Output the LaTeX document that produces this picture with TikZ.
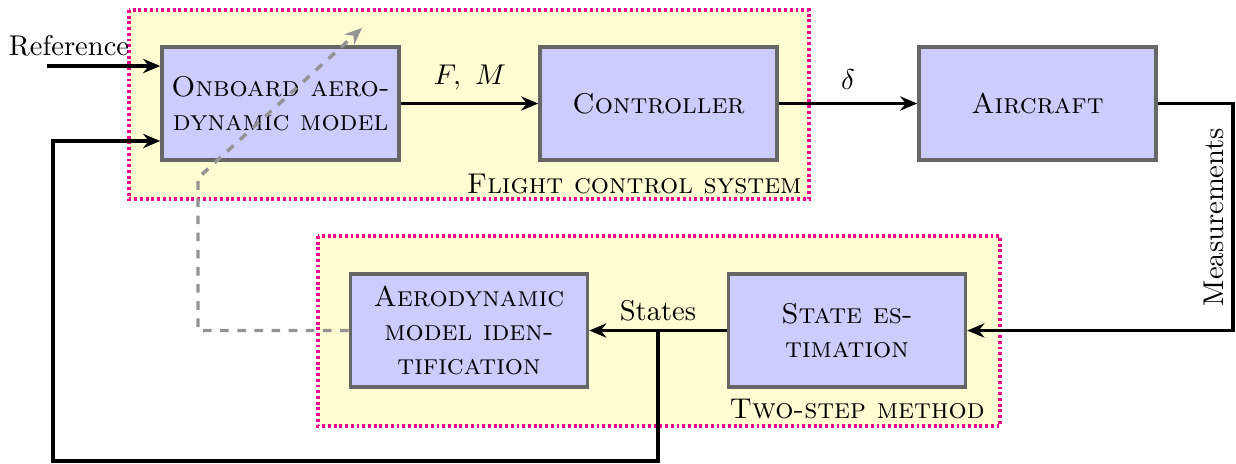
\documentclass[tikz,border=0pt]{standalone}
\usetikzlibrary{arrows.meta}
\begin{document}
\begin{tikzpicture}[x=0.35pt,y=-0.35pt,
  blk/.style={draw=black!60,very thick,fill=blue!20,minimum width=83pt,minimum height=39.5pt,align=center,inner sep=2pt},
  grp/.style={draw=magenta,line width=1.1pt,dash pattern=on 1pt off 1pt,fill=yellow!18},
  sig/.style={very thick,-{Stealth[length=6pt,width=5pt,inset=2pt]}},
  adj/.style={very thick,dashed,gray!85,-{Stealth[length=6pt,width=5pt,inset=2pt]}},
  lbl/.style={inner sep=1pt}]
\useasboundingbox (0,0) rectangle (1236,463);
% group backgrounds
\path[grp] (129,10) rectangle (809,199);
\path[grp] (318,236) rectangle (1000,426);
\node[lbl,anchor=base east] (fcs) at (805,193) {\textsc{Flight control system}};
\node[lbl,anchor=base east] (tsm) at (988,418) {\textsc{Two-step method}};
% blocks
\node[blk] (onb) at (280.5,103.5) {\textsc{Onboard aero-}\\\textsc{dynamic model}};
\node[blk] (ctl) at (658.5,103.5) {\textsc{Controller}};
\node[blk] (acf) at (1037.5,103.5) {\textsc{Aircraft}};
\node[blk] (ami) at (469,330.5) {\textsc{Aerodynamic}\\\textsc{model iden-}\\\textsc{tification}};
\node[blk] (ste) at (847,330.5) {\textsc{State es-}\\\textsc{timation}};
% coordinates
\coordinate (refin) at (47,66);
\coordinate (br) at (658,330.5);
\coordinate (b1) at (658,461);
\coordinate (b2) at (53,461);
\coordinate (b3) at (53,141);
\coordinate (m1) at (1233,103.5);
\coordinate (m2) at (1233,330.5);
\coordinate (d1) at (198,330.5);
\coordinate (d2) at (198,178);
\coordinate (d3) at (362,28);
% labels
\node[lbl] (reflbl) at (69,46) {Reference};
\node[lbl] (fm) at (470,78) {$F,\ M$};
\node[lbl] (dl) at (848,80) {$\delta$};
\node[lbl] (stl) at (658,311) {States};
\node[lbl,rotate=90] (meas) at (1214,217) {Measurements};
% connectors
\draw[sig] (refin) -- (refin -| onb.west);
\draw[sig] (onb) -- (ctl);
\draw[sig] (ctl) -- (acf);
\draw[sig] (acf.east) -- (m1) -- (m2) -- (ste.east);
\draw[sig] (ste) -- (ami);
\draw[sig] (br) -- (b1) -- (b2) -- (b3) -- (b3 -| onb.west);
\draw[adj] (ami.west) -- (d1) -- (d2) -- (d3);
\end{tikzpicture}
\end{document}
